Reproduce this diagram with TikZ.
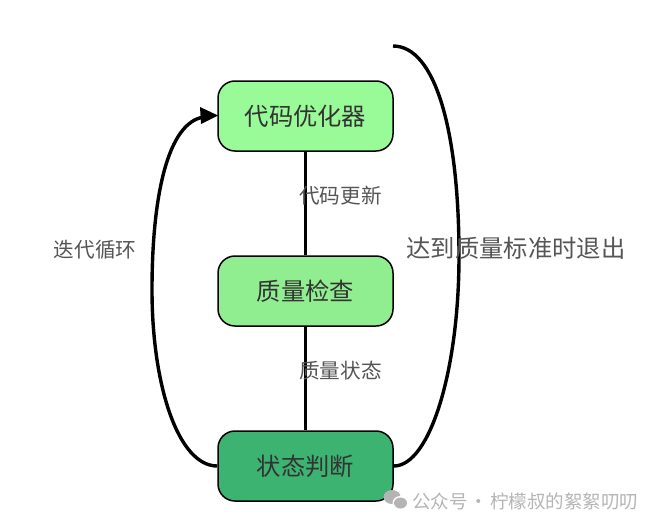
\documentclass[tikz,border=0pt]{standalone}
\usepackage{fontspec}
\setmainfont{Noto Sans CJK SC}
\usetikzlibrary{arrows.meta}
\definecolor{lightg}{HTML}{98FB98}
\definecolor{midg}{HTML}{90EE90}
\definecolor{darkg}{HTML}{3CB371}
\definecolor{lab}{HTML}{555555}
\definecolor{wm}{HTML}{B4B4B4}
\tikzset{
  x=1pt,y=-1pt,
  box/.style={draw=black,line width=1.5pt,rounded corners=17pt,minimum width=175pt,minimum height=70pt,inner sep=0pt,font=\fontsize{24.3}{28}\selectfont,text=black!80},
  conn/.style={draw=black,line width=3.4pt},
  lbl/.style={font=\fontsize{20.6}{24}\selectfont,text=lab,inner sep=0pt},
  biglbl/.style={font=\fontsize{24.3}{28}\selectfont,text=lab,inner sep=0pt},
  wmtext/.style={font=\fontsize{18.5}{20}\selectfont,text=wm,inner sep=0pt}
}
\begin{document}
\begin{tikzpicture}
\useasboundingbox (0,0) rectangle (660,527);
\node[box,fill=lightg] (opt) at (305.5,116) {代码优化器};
\node[box,fill=midg] (chk) at (305.5,291) {质量检查};
\node[box,fill=darkg] (st) at (305.5,466) {状态判断};
\coordinate (exit) at (393,46);
\draw[conn] (opt.south) -- (chk.north);
\draw[conn] (chk.south) -- (st.north);
\draw[conn] (st.west) .. controls (178,466) and (152,385) .. (152,290) .. controls (152,195) and (168,122) .. (204,117);
\fill[black] (218,115.5) -- (200,107) -- (201,124) -- cycle;
\draw[conn] (st.east) .. controls (430,466) and (459,370) .. (459,256) .. controls (459,130) and (435,46) .. (exit);
\node[lbl] (l1) at (340.5,196) {代码更新};
\node[lbl] (l2) at (340.5,371) {质量状态};
\node[lbl] (l3) at (95,250) {迭代循环};
\node[biglbl] (l4) at (516,248) {达到质量标准时退出};
\fill[wm] (392,497) ellipse (8.5 and 7);
\fill[white] (400.5,503) ellipse (8 and 7);
\fill[wm] (400.5,503) ellipse (6.5 and 5.5);
\node[wmtext,anchor=west] (w) at (412,501) {公众号\hspace{-2pt} · \hspace{-2pt}柠檬叔的絮絮叨叨};
\end{tikzpicture}
\end{document}
